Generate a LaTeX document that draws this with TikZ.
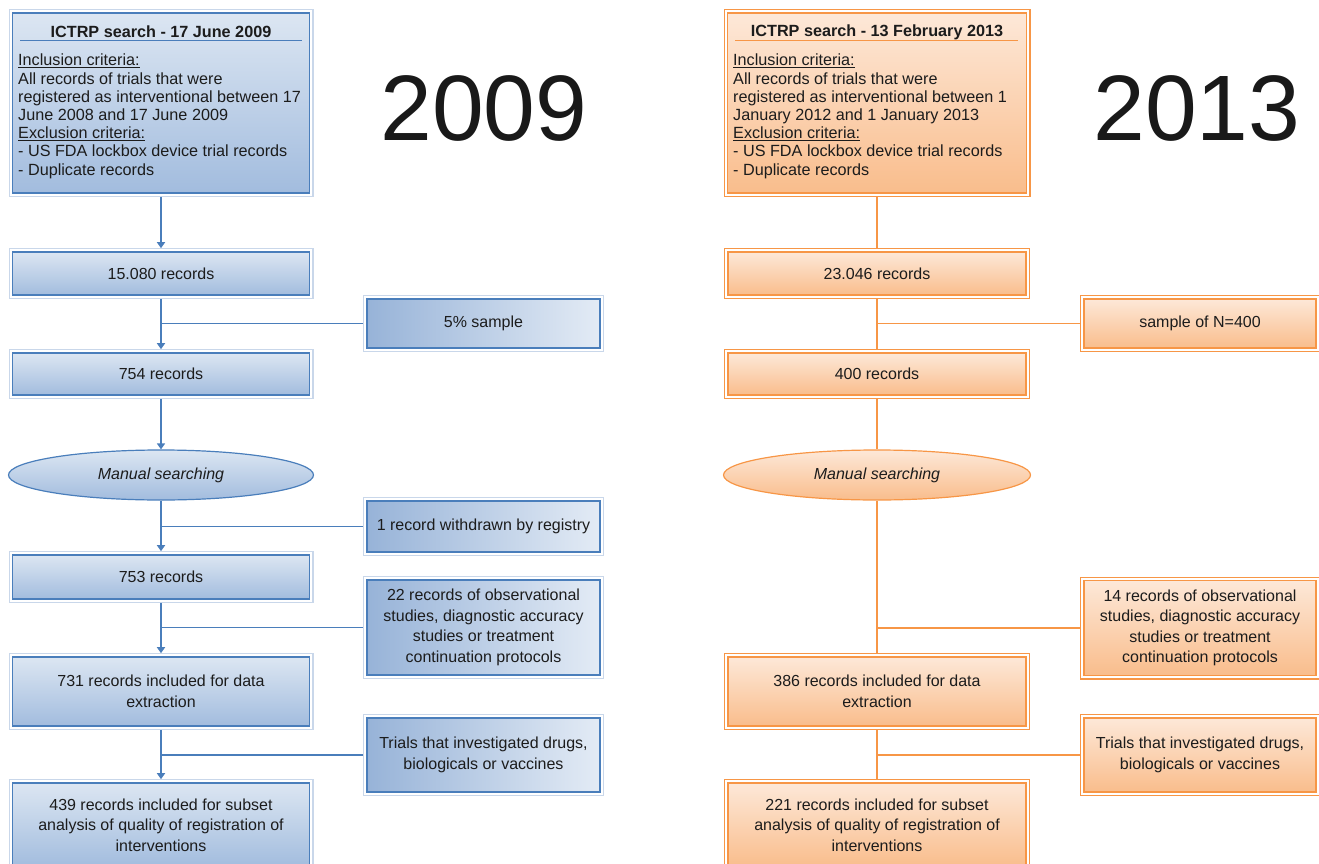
\documentclass[tikz,border=0pt]{standalone}
\usepackage{fontspec}
\setmainfont{Liberation Sans}
\usetikzlibrary{arrows.meta,shapes.geometric}
\definecolor{bline}{HTML}{4A7EBB}
\definecolor{bouter}{HTML}{C9D7EA}
\definecolor{btop}{HTML}{DCE6F2}
\definecolor{bbot}{HTML}{A2BCDE}
\definecolor{bsideL}{HTML}{97B3D8}
\definecolor{bsideR}{HTML}{E3EBF5}
\definecolor{oline}{HTML}{F79646}
\definecolor{otop}{HTML}{FDE8D8}
\definecolor{obot}{HTML}{F9BD8C}
\definecolor{txt}{HTML}{1C1C1C}
\begin{document}
\begin{tikzpicture}[x=1pt,y=-1pt,
  every node/.style={text=txt},
  body/.style={font=\fontsize{16}{20.5}\selectfont, align=center, inner sep=0pt},
  bluebox/.style={body, rectangle, draw=bline, line width=1.6pt, top color=btop, bottom color=bbot,
     preaction={draw=bouter, line width=8pt}, preaction={draw=white, line width=5.5pt}},
  bluesidebox/.style={body, rectangle, draw=bline, line width=1.6pt, left color=bsideL, right color=bsideR,
     preaction={draw=bouter, line width=8pt}, preaction={draw=white, line width=5.5pt}},
  orangebox/.style={body, rectangle, draw=oline, line width=1.6pt, top color=otop, bottom color=obot,
     preaction={draw=oline, line width=8pt}, preaction={draw=white, line width=5.5pt}},
  blueell/.style={body, ellipse, draw=bline, line width=1.2pt, top color=btop, bottom color=bbot,
     minimum width=305pt, minimum height=50pt, font=\itshape\fontsize{16}{20.5}\selectfont},
  orangeell/.style={body, ellipse, draw=oline, line width=1.2pt, top color=otop, bottom color=obot,
     minimum width=307pt, minimum height=50pt, font=\itshape\fontsize{16}{20.5}\selectfont},
  ttl/.style={font=\bfseries\fontsize{16.2}{18}\selectfont, inner sep=0pt},
  crit/.style={font=\fontsize{16.2}{18.2}\selectfont, align=left, inner sep=0pt, anchor=north west},
  year/.style={font=\fontsize{93}{93}\selectfont, text=black!90, inner sep=0pt},
  arr/.style={draw=bline, line width=1.8pt, -{Triangle[width=8pt,length=6pt]}},
  bln/.style={draw=bline, line width=1.8pt},
  oln/.style={draw=oline, line width=1.8pt}
]
\useasboundingbox (0,0) rectangle (1319,864);
\clip (0,0) rectangle (1319,864);

% ---------------- 2009 (left) ----------------
\node[bluebox, minimum width=297pt, minimum height=180pt] (top09) at (161,103) {};
\node[ttl] (t09) at (161,32) {ICTRP search - 17 June 2009};
\draw[bline, line width=1pt] (20,41) -- (302,41);
\node[crit] (c09) at (18,54) {\underline{Inclusion criteria:}\\All records of trials that were\\registered as interventional between 17\\June 2008 and 17 June 2009\\\underline{Exclusion criteria:}\\- US FDA lockbox device trial records\\- Duplicate records};
\node[year] (y09) at (484,108) {2009};

\node[bluebox, minimum width=297pt, minimum height=43pt] (n1) at (161,273.5) {15.080 records};
\node[bluebox, minimum width=297pt, minimum height=42pt] (n2) at (161,374) {754 records};
\node[blueell] (e1) at (161,475) {Manual searching};
\node[bluebox, minimum width=297pt, minimum height=44pt] (n3) at (161,577) {753 records};
\node[bluebox, minimum width=297pt, minimum height=69pt] (n4) at (161,691.5) {731 records included for data\\extraction};
\node[bluebox, minimum width=297pt, minimum height=84pt] (n5) at (161,825) {439 records included for subset\\analysis of quality of registration of\\interventions};

\node[bluesidebox, minimum width=233pt, minimum height=49pt] (s1) at (483.5,323.5) {5\% sample};
\node[bluesidebox, minimum width=233pt, minimum height=51pt] (s2) at (483.5,526.5) {1 record withdrawn by registry};
\node[bluesidebox, minimum width=233pt, minimum height=95pt] (s3) at (483.5,627.5) {22 records of observational\\studies, diagnostic accuracy\\studies or treatment\\continuation protocols};
\node[bluesidebox, minimum width=233pt, minimum height=74pt] (s4) at (483.5,755) {Trials that investigated drugs,\\biologicals or vaccines};

\draw[arr, shorten <=3pt, shorten >=3pt] (top09.south) -- (n1.north);
\draw[arr, shorten <=3pt, shorten >=3pt] (n1.south) -- (n2.north);
\draw[bln, shorten <=3pt] (s1.west) -- (s1.west -| n1.south);
\draw[arr, shorten <=3pt] (n2.south) -- (e1.north);
\draw[arr, shorten >=3pt] (e1.south) -- (n3.north);
\draw[bln, shorten <=3pt] (s2.west) -- (s2.west -| n1.south);
\draw[arr, shorten <=3pt, shorten >=3pt] (n3.south) -- (n4.north);
\draw[bln, shorten <=3pt] (s3.west) -- (s3.west -| n1.south);
\draw[arr, shorten <=3pt, shorten >=3pt] (n4.south) -- (n5.north);
\draw[bln, shorten <=3pt] (s4.west) -- (s4.west -| n1.south);

% ---------------- 2013 (right) ----------------
\node[orangebox, minimum width=299pt, minimum height=180pt] (top13) at (877,103) {};
\node[ttl] (t13) at (877,32) {ICTRP search - 13 February 2013};
\draw[oline, line width=1pt] (735,41) -- (1018,41);
\node[crit] (c13) at (733,54) {\underline{Inclusion criteria:}\\All records of trials that were\\registered as interventional between 1\\January 2012 and 1 January 2013\\\underline{Exclusion criteria:}\\- US FDA lockbox device trial records\\- Duplicate records};
\node[year] (y13) at (1197,108) {2013};

\node[orangebox, minimum width=298pt, minimum height=43pt] (m1) at (877,273.5) {23.046 records};
\node[orangebox, minimum width=298pt, minimum height=42pt] (m2) at (877,374) {400 records};
\node[orangeell] (e2) at (877,475) {Manual searching};
\node[orangebox, minimum width=298pt, minimum height=69pt] (m4) at (877,691.5) {386 records included for data\\extraction};
\node[orangebox, minimum width=298pt, minimum height=84pt] (m5) at (877,825) {221 records included for subset\\analysis of quality of registration of\\interventions};

\node[orangebox, minimum width=232pt, minimum height=49pt] (r1) at (1200,323.5) {sample of N=400};
\node[orangebox, minimum width=232pt, minimum height=95pt] (r3) at (1200,628) {14 records of observational\\studies, diagnostic accuracy\\studies or treatment\\continuation protocols};
\node[orangebox, minimum width=232pt, minimum height=74pt] (r4) at (1200,755) {Trials that investigated drugs,\\biologicals or vaccines};

\draw[oln, shorten <=3pt, shorten >=3pt] (top13.south) -- (m1.north);
\draw[oln, shorten <=3pt, shorten >=3pt] (m1.south) -- (m2.north);
\draw[oln, shorten <=3pt] (r1.west) -- (r1.west -| m1.south);
\draw[oln, shorten <=3pt] (m2.south) -- (e2.north);
\draw[oln, shorten >=3pt] (e2.south) -- (m4.north);
\draw[oln, shorten <=3pt] (r3.west) -- (r3.west -| m1.south);
\draw[oln, shorten <=3pt, shorten >=3pt] (m4.south) -- (m5.north);
\draw[oln, shorten <=3pt] (r4.west) -- (r4.west -| m1.south);
\end{tikzpicture}
\end{document}
